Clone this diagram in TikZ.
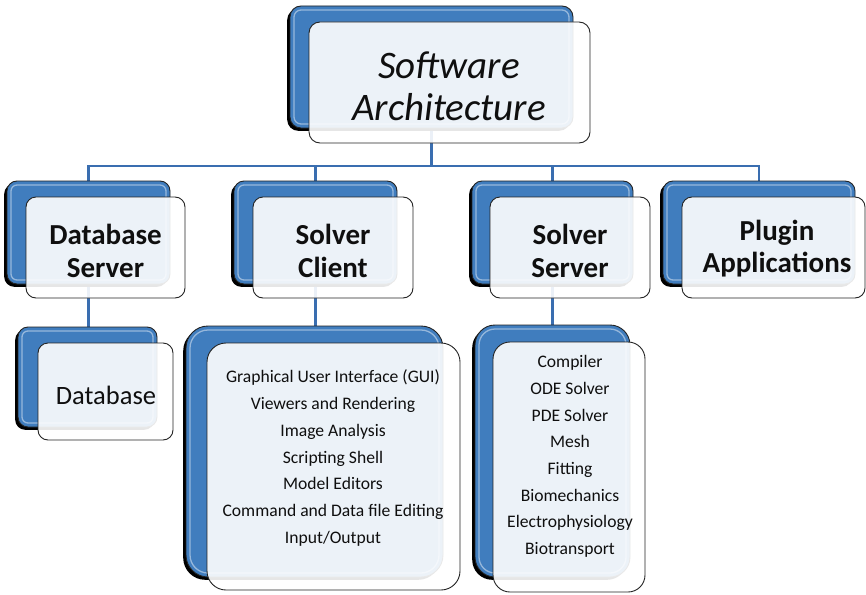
\documentclass[tikz,border=0pt]{standalone}
\usepackage{fontspec}
\setmainfont{Carlito}
\usetikzlibrary{shadows,backgrounds}

\definecolor{cardblue}{RGB}{64,125,190}
\definecolor{linkblue}{RGB}{58,110,176}
\definecolor{edgedark}{RGB}{35,35,35}
\definecolor{inktext}{RGB}{15,15,15}

\tikzset{
  backcard/.style={draw=edgedark, line width=0.9pt, fill=cardblue,
    rounded corners=#1, inner sep=0pt, outer sep=0pt, anchor=north west,
    general shadow={fill=black, shadow xshift=-2.8pt, shadow yshift=-2.8pt},
    path picture={\draw[white, opacity=0.45, line width=1.3pt, rounded corners=#1-4pt]
      ([shift={(4pt,-4pt)}]path picture bounding box.north west) rectangle
      ([shift={(-4pt,4pt)}]path picture bounding box.south east);}},
  frontcard/.style={draw=edgedark, line width=0.9pt, fill=white, fill opacity=0.9,
    rounded corners=#1, inner sep=0pt, outer sep=0pt, anchor=north west},
  link/.style={draw=linkblue, line width=2.4pt},
  titletext/.style={font=\fontsize{39}{42}\selectfont\itshape, text=inktext, align=center},
  headtext/.style={font=\fontsize{29}{32.5}\selectfont\bfseries, text=inktext, align=center},
  itemtext/.style={font=\fontsize{17.6}{26.7}\selectfont, text=inktext, align=center},
  boxtext/.style={font=\fontsize{26.5}{30}\selectfont, text=inktext, align=center},
}

\begin{document}
\begin{tikzpicture}[x=1pt, y=-1pt]
  \useasboundingbox (0,0) rectangle (866,594);

  % top level
  \node[backcard=11pt, minimum width=283pt, minimum height=122pt] (topB) at (290,6) {};
  \node[frontcard=11pt, minimum width=281pt, minimum height=121pt] (topF) at (309,22) {};
  \node[titletext] (topT) at (449,86) {Software\\Architecture};

  % second level
  \node[backcard=10pt, minimum width=163pt, minimum height=103pt] (dsB) at (7,181) {};
  \node[frontcard=10pt, minimum width=159pt, minimum height=101pt] (dsF) at (26,197) {};
  \node[headtext] (dsT) at (105.5,251) {Database\\Server};

  \node[backcard=10pt, minimum width=163pt, minimum height=103pt] (scB) at (234,181) {};
  \node[frontcard=10pt, minimum width=160pt, minimum height=101pt] (scF) at (253,197) {};
  \node[headtext] (scT) at (333,251) {Solver\\Client};

  \node[backcard=10pt, minimum width=161pt, minimum height=103pt] (ssB) at (472,181) {};
  \node[frontcard=10pt, minimum width=160pt, minimum height=101pt] (ssF) at (490,197) {};
  \node[headtext] (ssT) at (570,251) {Solver\\Server};

  \node[backcard=10pt, minimum width=192pt, minimum height=103pt] (plB) at (663,181) {};
  \node[frontcard=10pt, minimum width=183pt, minimum height=101pt] (plF) at (682,197) {};
  \node[headtext] (plT) at (777,248.5) {Plugin\\Applications};

  % third level
  \node[backcard=10pt, minimum width=139pt, minimum height=100pt] (dbB) at (18,327) {};
  \node[frontcard=10pt, minimum width=135pt, minimum height=97pt] (dbF) at (38,343) {};
  \node[boxtext] (dbT) at (106,395) {Database};

  \node[backcard=22pt, minimum width=257pt, minimum height=251pt] (clB) at (186,326) {};
  \node[frontcard=19pt, minimum width=253pt, minimum height=247pt] (clF) at (207,343) {};
  \node[itemtext] (clT) at (333,458) {Graphical User Interface (GUI)\\Viewers and Rendering\\Image Analysis\\Scripting Shell\\Model Editors\\Command and Data file Editing\\Input/Output};

  \node[backcard=20pt, minimum width=155pt, minimum height=252pt] (svB) at (475,325) {};
  \node[frontcard=17pt, minimum width=152pt, minimum height=250pt] (svF) at (493,342) {};
  \node[itemtext] (svT) at (570,456.5) {Compiler\\ODE Solver\\PDE Solver\\Mesh\\Fitting\\Biomechanics\\Electrophysiology\\Biotransport};

  % page ground and connectors, kept under the cards
  \coordinate (bus) at (431,166);
  \begin{scope}[on background layer]
    \fill[white] (0,0) rectangle (866,594);
    \draw[link] (topB.center) -- (topB.center |- bus) -| (dsB.north);
    \draw[link] (topB.center) -- (topB.center |- bus) -| (scB.north);
    \draw[link] (topB.center) -- (topB.center |- bus) -| (ssB.north);
    \draw[link] (topB.center) -- (topB.center |- bus) -| (plB.north);
    \draw[link] (dsB.center) -- (dsB.center |- dbB.north);
    \draw[link] (scB.center) -- (scB.center |- clB.north);
    \draw[link] (ssB.center) -- (ssB.center |- svB.north);
  \end{scope}
\end{tikzpicture}
\end{document}
